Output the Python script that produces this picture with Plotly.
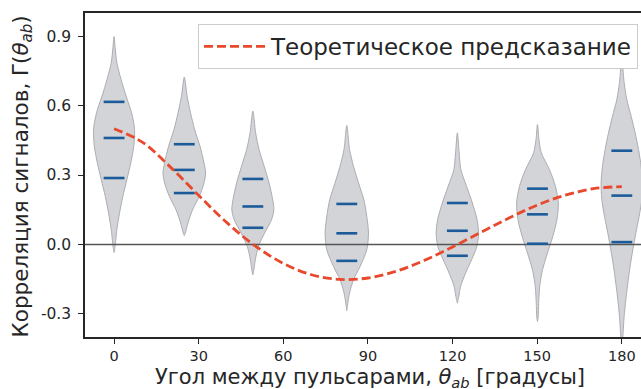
import plotly.graph_objects as go

# ---------------- data ----------------
violin_x = [0, 24.9, 49.2, 82.5, 121.7, 150.1, 180]

# violin outlines: y levels (top -> bottom) and half widths in degrees
v1_y = [0.898, 0.85, 0.785, 0.713, 0.641, 0.569, 0.497, 0.424, 0.352, 0.280, 0.208, 0.136, 0.064, -0.009, -0.035]
v1_w = [0.0, 0.40, 0.99, 2.48, 4.26, 6.21, 7.27, 6.99, 5.92, 4.54, 3.12, 1.95, 0.99, 0.35, 0.0]
v2_y = [0.723, 0.641, 0.569, 0.497, 0.424, 0.352, 0.309, 0.266, 0.208, 0.150, 0.093, 0.049, 0.038]
v2_w = [0.0, 0.99, 2.20, 3.65, 5.57, 6.99, 7.55, 6.99, 5.32, 2.94, 1.31, 0.35, 0.0]
v3_y = [0.576, 0.482, 0.410, 0.338, 0.266, 0.194, 0.150, 0.107, 0.049, -0.009, -0.066, -0.110, -0.131]
v3_w = [0.0, 0.99, 2.20, 4.01, 5.74, 7.02, 7.45, 6.63, 4.15, 1.95, 0.89, 0.35, 0.0]
v4_y = [0.514, 0.410, 0.338, 0.266, 0.194, 0.121, 0.049, -0.023, -0.095, -0.153, -0.210, -0.254, -0.286]
v4_w = [0.0, 0.99, 2.38, 4.15, 6.03, 7.09, 7.69, 7.09, 4.72, 2.38, 0.96, 0.35, 0.0]
v5_y = [0.482, 0.396, 0.323, 0.251, 0.179, 0.107, 0.049, -0.009, -0.066, -0.124, -0.182, -0.225, -0.254]
v5_w = [0.0, 0.64, 1.24, 3.26, 5.32, 6.99, 7.52, 6.91, 5.04, 2.91, 1.13, 0.53, 0.0]
v6_y = [0.518, 0.453, 0.396, 0.323, 0.251, 0.179, 0.107, 0.035, -0.037, -0.110, -0.182, -0.254, -0.312, -0.333]
v6_w = [0.0, 0.53, 1.35, 4.26, 6.38, 7.38, 6.91, 5.43, 3.55, 1.77, 0.78, 0.43, 0.25, 0.0]
v7_y = [0.80, 0.699, 0.626, 0.554, 0.482, 0.410, 0.338, 0.266, 0.194, 0.121, 0.049, -0.023, -0.095, -0.167, -0.239, -0.312, -0.399, -0.45]
v7_w = [0.0, 0.82, 1.77, 3.30, 4.72, 5.92, 6.84, 7.34, 7.09, 6.13, 4.96, 3.90, 2.94, 2.13, 1.42, 0.82, 0.35, 0.0]

violin_y = [v1_y, v2_y, v3_y, v4_y, v5_y, v6_y, v7_y]
violin_w = [v1_w, v2_w, v3_w, v4_w, v5_w, v6_w, v7_w]

# blue horizontal marks inside each violin
marks = [
    [0.616, 0.460, 0.287],
    [0.433, 0.322, 0.222],
    [0.283, 0.164, 0.072],
    [0.175, 0.048, -0.071],
    [0.179, 0.059, -0.049],
    [0.241, 0.130, 0.003],
    [0.405, 0.211, 0.010],
]
mark_half = 3.7

# theoretical prediction curve
theta = [0, 10, 20, 30, 40, 50, 60, 70, 80, 90, 100, 110, 120, 130, 140, 150, 160, 170, 180]
gamma = [0.500, 0.442, 0.334, 0.212, 0.094, -0.006, -0.082, -0.131, -0.151, -0.145, -0.116,
         -0.069, -0.011, 0.052, 0.114, 0.170, 0.213, 0.241, 0.250]

x_ticks = [0, 30, 60, 90, 120, 150, 180]
y_ticks = [-0.3, 0.0, 0.3, 0.6, 0.9]
y_ticklabels = ["-0.3", "0.0", "0.3", "0.6", "0.9"]

x_title = "Угол между пульсарами, <i>θ</i><sub><i>ab</i></sub> [градусы]"
y_title = "Корреляция сигналов, Γ(<i>θ</i><sub><i>ab</i></sub>)"
legend_label = "Теоретическое предсказание"

FONT = "DejaVu Sans"
AXC = "#262626"
ML, MT, MB = 85, 13, 52
W, H = 641, 389
PW, PH = W - ML, H - MT - MB

fig = go.Figure()

# violins
for xc, ys, ws in zip(violin_x, violin_y, violin_w):
    px = [xc + w for w in ws] + [xc - w for w in reversed(ws)]
    py = list(ys) + list(reversed(ys))
    fig.add_trace(go.Scatter(
        x=px, y=py, mode="lines", fill="toself",
        fillcolor="rgb(211,212,215)",
        line=dict(color="rgb(172,173,178)", width=1, shape="spline", smoothing=0.8),
        hoverinfo="skip", showlegend=False))

# zero line
fig.add_trace(go.Scatter(x=[-20, 200], y=[0, 0], mode="lines",
                         line=dict(color="#555555", width=1.6),
                         hoverinfo="skip", showlegend=False))

# blue marks
mx, my = [], []
for xc, vals in zip(violin_x, marks):
    for v in vals:
        mx += [xc - mark_half, xc + mark_half, None]
        my += [v, v, None]
fig.add_trace(go.Scatter(x=mx, y=my, mode="lines",
                         line=dict(color="#1c5b9a", width=2.6),
                         hoverinfo="skip", showlegend=False))

# theory curve
fig.add_trace(go.Scatter(x=theta, y=gamma, mode="lines",
                         name=legend_label,
                         line=dict(color="#e8482b", width=2.8, dash="9px,4px", shape="spline")))

fig.update_layout(
    width=W, height=H,
    margin=dict(l=ML, r=0, t=MT, b=MB, autoexpand=False),
    paper_bgcolor="white", plot_bgcolor="white",
    font=dict(family=FONT, color=AXC, size=14.5),
    showlegend=True,
    legend=dict(x=(638 - ML) / PW, y=(H - MB - 24) / PH, xanchor="right", yanchor="top",
                bgcolor="white", bordercolor="#cccccc", borderwidth=1,
                font=dict(size=23, family=FONT, color=AXC),
                itemwidth=62),
    xaxis=dict(range=[-10.3, 186.8], tickmode="array", tickvals=x_ticks,
               ticks="outside", ticklen=5, tickwidth=1.3, tickcolor=AXC,
               showline=True, linecolor=AXC, linewidth=1.5, mirror=True,
               showgrid=False, zeroline=False, automargin=False,
               tickfont=dict(size=14.5, family=FONT, color=AXC)),
    yaxis=dict(range=[-0.4, 1.0], tickmode="array", tickvals=y_ticks, ticktext=y_ticklabels,
               ticks="outside", ticklen=5, tickwidth=1.3, tickcolor=AXC,
               showline=True, linecolor=AXC, linewidth=1.5, mirror=False,
               showgrid=False, zeroline=False, automargin=False, ticklabelstandoff=4,
               tickfont=dict(size=15.5, family=FONT, color=AXC)),
    annotations=[
        dict(text=x_title, xref="paper", yref="paper",
             x=(370 - ML) / PW, y=0, yshift=-(377.5 - (H - MB)),
             xanchor="center", yanchor="middle", showarrow=False, borderpad=0,
             font=dict(size=21, family=FONT, color=AXC)),
        dict(text=y_title, xref="paper", yref="paper",
             x=0, xshift=-(ML - 22), y=0.5, yshift=(MT + PH / 2) - 176.5,
             xanchor="center", yanchor="middle", textangle=-90, showarrow=False,
             font=dict(size=21.5, family=FONT, color=AXC)),
    ],
)

fig.write_html("out.html", config={"displayModeBar": False},
               post_script="document.body.style.margin='0px';document.body.style.overflow='hidden';")
